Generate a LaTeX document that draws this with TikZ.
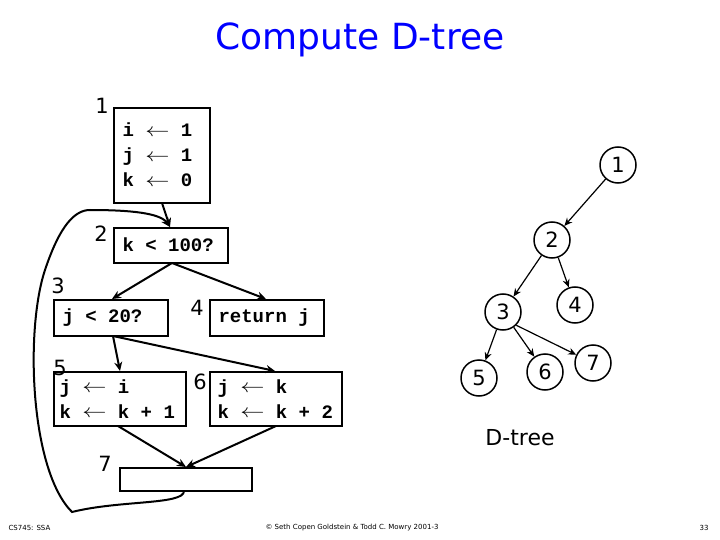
\documentclass[tikz,border=0pt]{standalone}
\usepackage{fontspec}
\setmainfont{DejaVu Sans}
\newfontfamily\cmono{Liberation Mono}
\newcommand{\la}{\raisebox{0.5pt}{\scalebox{1.4}[1.1]{$\leftarrow$}}}
\usetikzlibrary{arrows.meta}
\begin{document}
\begin{tikzpicture}[x=1pt,y=-1pt,
  blk/.style={draw,line width=2pt,inner sep=0pt},
  code/.style={font=\cmono\bfseries\fontsize{19}{25}\selectfont,align=left,anchor=west},
  lab/.style={font=\fontsize{21}{21}\selectfont},
  tn/.style={draw,circle,minimum size=36pt,inner sep=0pt,line width=1.5pt,font=\fontsize{21}{21}\selectfont},
  arr/.style={-{Stealth[length=9pt,width=8pt]},line width=2pt},
  tarr/.style={-{Stealth[length=8pt,width=7pt]},line width=1.2pt}]
\useasboundingbox (0,0) rectangle (720,540);
\node[font=\fontsize{36}{36}\selectfont,text=blue] (title) at (360,40) {Compute D-tree};
% CFG blocks
\draw[blk] (114,108) rectangle (210,203);
\draw[blk] (114,228) rectangle (228,263);
\draw[blk] (54,300) rectangle (168,336);
\draw[blk] (210,300) rectangle (324,336);
\draw[blk] (54,372) rectangle (186,426);
\draw[blk] (210,372) rectangle (342,426);
\draw[blk] (120,468) rectangle (252,491);
\coordinate (b1s) at (162,203); \coordinate (b2n) at (170,227);
\coordinate (b2s) at (172,263); \coordinate (b3n) at (112,299); \coordinate (b4n) at (266,299);
\coordinate (b3s) at (113,336); \coordinate (b5n) at (120,371); \coordinate (b6n) at (275,371);
\coordinate (b5s) at (118,426); \coordinate (b6s) at (276,426); \coordinate (b7n) at (186,467);
\coordinate (b7s) at (184,491);
\node[code] (c1) at (119,155) {i \la{} 1\\j \la{} 1\\k \la{} 0};
\node[code] (c2) at (119,245) {k < 100?};
\node[code] (c3) at (59,318) {j < 20?};
\node[code] (c4) at (215,318) {return j};
\node[code] (c5) at (56,399) {j \la{} i\\k \la{} k + 1};
\node[code] (c6) at (214,399) {j \la{} k\\k \la{} k + 2};
\node[lab] (l1) at (102,106) {1};
\node[lab] (l2) at (101,234) {2};
\node[lab] (l3) at (58,286) {3};
\node[lab] (l4) at (197,308) {4};
\node[lab] (l5) at (60,368) {5};
\node[lab] (l6) at (200,382) {6};
\node[lab] (l7) at (105,464) {7};
\draw[arr] (b1s) -- (b2n);
\draw[arr] (b2s) -- (b3n);
\draw[arr] (b2s) -- (b4n);
\draw[arr] (b3s) -- (b5n);
\draw[arr] (b3s) -- (b6n);
\draw[arr] (b5s) -- (b7n);
\draw[arr] (b6s) -- (b7n);
\draw[arr] (b7s) .. controls (184,505) and (120,500) .. (72,512)
  .. controls (30,470) and (25,330) .. (45,270)
  .. controls (60,225) and (75,210) .. (90,210)
  .. controls (130,210) and (160,213) .. (b2n);
% D-tree
\node[tn] (t1) at (618,165) {1};
\node[tn] (t2) at (552,240) {2};
\node[tn] (t3) at (503,312) {3};
\node[tn] (t4) at (575,305) {4};
\node[tn] (t5) at (479,378) {5};
\node[tn] (t6) at (545,372) {6};
\node[tn] (t7) at (593,363) {7};
\draw[tarr] (t1) -- (t2);
\draw[tarr] (t2) -- (t3);
\draw[tarr] (t2) -- (t4);
\draw[tarr] (t3) -- (t5);
\draw[tarr] (t3) -- (t6);
\draw[tarr] (t3.south east) -- (t7);
\node[font=\fontsize{22}{22}\selectfont] (dt) at (520,438) {D-tree};
% footer
\node[font=\fontsize{7}{7}\selectfont,anchor=west] (f1) at (5,528) {CS745: SSA};
\node[font=\fontsize{7}{7}\selectfont] (f2) at (352,528) {© Seth Copen Goldstein \& Todd C. Mowry 2001-3};
\node[font=\fontsize{7}{7}\selectfont,anchor=east] (f3) at (712,528) {33};
\end{tikzpicture}
\end{document}
